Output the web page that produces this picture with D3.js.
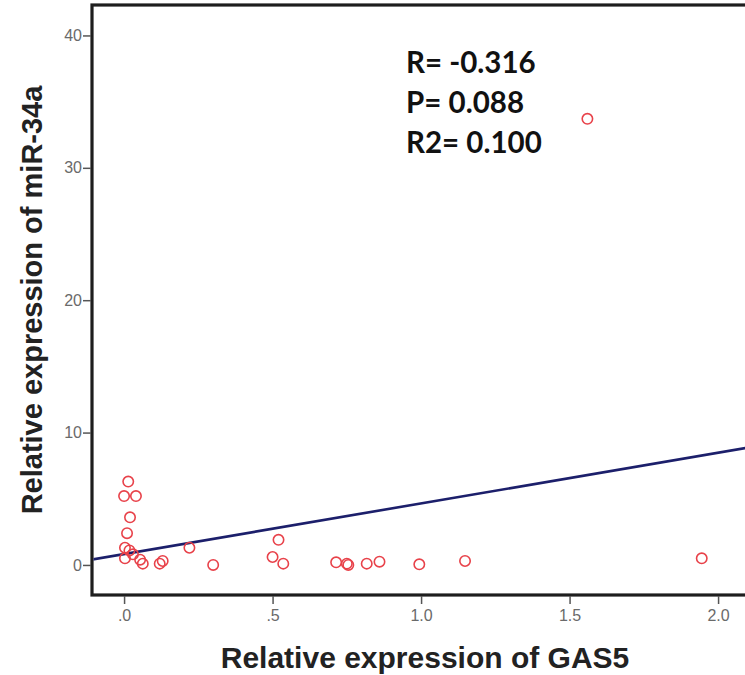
<!DOCTYPE html>
<html>
<head>
<meta charset="utf-8">
<script src="https://cdn.jsdelivr.net/npm/d3@7"></script>
<style>
  body { margin: 0; background: #fff; }
  svg { display: block; }
</style>
</head>
<body>
<div id="chart"></div>
<script>
// GAS5 (x) vs miR-34a (y)
var gas5 = [0.014, 0.0, 0.04, 0.02, 0.01, 0.003, 0.018, 0.003, 0.03, 0.054, 0.063, 0.12, 0.13, 0.22, 0.30,
            0.52, 0.50, 0.536, 0.714, 0.75, 0.755, 0.817, 0.86, 0.994, 1.148, 1.945, 1.56];
var mir34a = [6.3, 5.2, 5.2, 3.6, 2.4, 1.3, 1.1, 0.5, 0.8, 0.4, 0.1, 0.1, 0.3, 1.3, 0.0,
              1.9, 0.6, 0.1, 0.2, 0.1, 0.0, 0.1, 0.25, 0.05, 0.3, 0.5, 33.7];

var xTicks = [0, 0.5, 1.0, 1.5, 2.0];
var xTickLabels = [".0", ".5", "1.0", "1.5", "2.0"];
var yTicks = [0, 10, 20, 30, 40];

// fitted line y = a + b*x
var fitIntercept = 0.82;
var fitSlope = 3.83;

var stats = ["R= -0.316", "P= 0.088", "R2= 0.100"];

var W = 745, H = 675;

var svg = d3.select("#chart").append("svg")
    .attr("width", W)
    .attr("height", H);

var xMin = -0.108, xMax = 2.2;
var yMin = -2.27, yMax = 42.3;

var x = d3.scaleLinear()
    .domain([xMin, xMax])
    .range([92, 92 + (xMax - xMin) * 297]);

var y = d3.scaleLinear()
    .domain([yMin, yMax])
    .range([595, 5]);

// frame
svg.append("rect")
    .attr("x", x(xMin))
    .attr("y", y(yMax))
    .attr("width", x(xMax) - x(xMin))
    .attr("height", y(yMin) - y(yMax))
    .attr("fill", "none")
    .attr("stroke", "#1e1e1e")
    .attr("stroke-width", 3.2);

// y axis ticks
var yAxis = svg.append("g")
    .attr("transform", "translate(" + (x(xMin) - 1) + ",0)")
    .call(d3.axisLeft(y).tickValues(yTicks).tickSize(8).tickPadding(1).tickFormat(d3.format("d")));
yAxis.select(".domain").remove();
yAxis.selectAll("line").attr("stroke", "#555").attr("stroke-width", 1.5);
yAxis.selectAll("text")
    .attr("fill", "#6a6a6a")
    .style("font-family", "Liberation Sans Narrow, Liberation Sans, Arial, sans-serif")
    .style("font-size", "16px");

// x axis ticks
var xAxis = svg.append("g")
    .attr("transform", "translate(0," + (y(yMin) + 1) + ")")
    .call(d3.axisBottom(x).tickValues(xTicks).tickSize(8).tickPadding(6)
        .tickFormat(function (d, i) { return xTickLabels[i]; }));
xAxis.select(".domain").remove();
xAxis.selectAll("line").attr("stroke", "#555").attr("stroke-width", 1.5);
xAxis.selectAll("text")
    .attr("fill", "#6a6a6a")
    .style("font-family", "Liberation Sans Narrow, Liberation Sans, Arial, sans-serif")
    .style("font-size", "16px");

// fit line, clipped to the plot frame
svg.append("clipPath").attr("id", "plotclip")
    .append("rect")
    .attr("x", x(xMin) + 1.5)
    .attr("y", y(yMax))
    .attr("width", x(xMax) - x(xMin))
    .attr("height", y(yMin) - y(yMax) - 1.5);

svg.append("path")
    .attr("clip-path", "url(#plotclip)")
    .attr("d", d3.line()
        .x(function (d) { return x(d); })
        .y(function (d) { return y(fitIntercept + fitSlope * d); })([xMin, xMax]))
    .attr("fill", "none")
    .attr("stroke", "#1c1f6b")
    .attr("stroke-width", 2.6);

// points
svg.append("g").selectAll("circle")
    .data(gas5.map(function (g, i) { return { g: g, m: mir34a[i] }; }))
    .enter()
    .append("circle")
    .attr("cx", function (d) { return x(d.g); })
    .attr("cy", function (d) { return y(d.m); })
    .attr("r", 5.2)
    .attr("fill", "none")
    .attr("stroke", "#e8424a")
    .attr("stroke-width", 1.6);

// stats text
svg.append("g").selectAll("text")
    .data(stats)
    .enter()
    .append("text")
    .attr("x", 406)
    .attr("y", function (d, i) { return 73 + i * 40; })
    .style("font-family", "Lato, 'Open Sans', sans-serif")
    .style("font-weight", "bold")
    .style("font-size", "29.5px")
    .attr("fill", "#111")
    .text(function (d) { return d; });

// axis titles
svg.append("text")
    .attr("x", 425)
    .attr("y", 668)
    .attr("text-anchor", "middle")
    .style("font-family", "Liberation Sans, Arial, sans-serif")
    .style("font-weight", "bold")
    .style("font-size", "30px")
    .attr("fill", "#222")
    .text("Relative expression of GAS5");

svg.append("text")
    .attr("transform", "translate(42,300) rotate(-90)")
    .attr("text-anchor", "middle")
    .style("font-family", "Liberation Sans, Arial, sans-serif")
    .style("font-weight", "bold")
    .style("font-size", "29px")
    .attr("fill", "#222")
    .text("Relative expression of miR-34a");
</script>
</body>
</html>
